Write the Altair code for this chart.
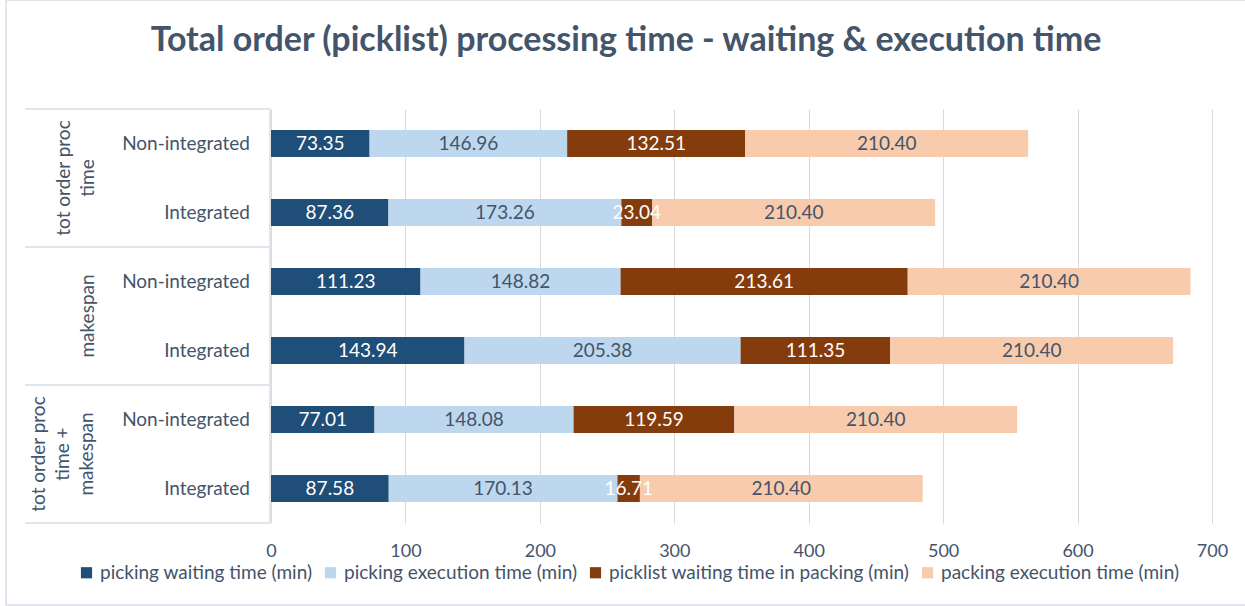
import altair as alt
import pandas as pd

title = "Total order (picklist) processing time - waiting & execution time"
groups = ["tot order proc\ntime", "makespan", "tot order proc\ntime +\nmakespan"]
categories = ["Non-integrated", "Integrated", "Non-integrated", "Integrated", "Non-integrated", "Integrated"]
series = [
    "picking waiting time (min)",
    "picking execution time (min)",
    "picklist waiting time in packing (min)",
    "packing execution time (min)",
]
picking_waiting = [73.35, 87.36, 111.23, 143.94, 77.01, 87.58]
picking_exec = [146.96, 173.26, 148.82, 205.38, 148.08, 170.13]
picklist_wait = [132.51, 23.04, 213.61, 111.35, 119.59, 16.71]
packing_exec = [210.40, 210.40, 210.40, 210.40, 210.40, 210.40]
colors = ["#1F4E79", "#BDD7EE", "#843C0C", "#F8CBAD"]
x_ticks = [0, 100, 200, 300, 400, 500, 600, 700]

FONT = "Lato"
TXT = "#44546A"
LINE = "#D9DEE6"

all_vals = [picking_waiting, picking_exec, picklist_wait, packing_exec]
rows = []
for r in range(len(categories)):
    for s, name in enumerate(series):
        rows.append({"row": r, "ypos": r + 0.5, "series": name, "order": s, "value": all_vals[s][r]})
df = pd.DataFrame(rows)

cat_df = pd.DataFrame({"ypos": [i + 0.5 for i in range(len(categories))], "cat": categories})
grp_df = pd.DataFrame({"gi": [0, 1, 2], "gy": [1, 3, 5], "g": groups})
bnd_df = pd.DataFrame({"b": [0, 2, 4, 6]})
title_df = pd.DataFrame({"t": [title]})

yscale = alt.Scale(domain=[0, 6], reverse=True, nice=False, zero=False, padding=0)
xscale = alt.Scale(domain=[0, 700], nice=False)
xaxis = alt.Axis(values=x_ticks, grid=True, gridColor="#D9D9D9", domain=False, ticks=False,
                 labelFlush=False, labelFontSize=18, labelFont=FONT, labelColor=TXT,
                 labelPadding=19, title=None)

base = alt.Chart(df).transform_stack(
    stack="value", groupby=["row"], as_=["x0", "x1"],
    sort=[alt.SortField("order", order="ascending")],
).transform_calculate(xm="(datum.x0 + datum.x1) / 2")

bars = base.mark_bar(orient="horizontal", size=27).encode(
    x=alt.X("x0:Q", scale=xscale, axis=xaxis),
    x2="x1:Q",
    y=alt.Y("ypos:Q", scale=yscale, axis=None),
    color=alt.Color("series:N", scale=alt.Scale(domain=series, range=colors),
                    legend=alt.Legend(orient="none", legendX=-194, legendY=454,
                                      direction="horizontal", title=None,
                                      symbolType="square", symbolSize=125,
                                      symbolStrokeWidth=0, labelLimit=0,
                                      labelFontSize=19, labelFont=FONT, labelColor=TXT,
                                      columnPadding=8, labelOffset=4)),
)

labels = base.mark_text(fontSize=19, font=FONT).encode(
    x=alt.X("xm:Q", scale=xscale, axis=xaxis),
    y=alt.Y("ypos:Q", scale=yscale, axis=None),
    text=alt.Text("value:Q", format=".2f"),
    color=alt.condition("datum.order == 0 || datum.order == 2", alt.value("white"), alt.value(TXT)),
)

cats = alt.Chart(cat_df).mark_text(align="right", fontSize=19, font=FONT, color=TXT).encode(
    x=alt.value(-21), y=alt.Y("ypos:Q", scale=yscale, axis=None), text="cat:N")

grp_layers = []
for gi, gx in zip([0, 1, 2], [-197, -173, -222]):
    grp_layers.append(
        alt.Chart(grp_df).transform_filter(f"datum.gi == {gi}").mark_text(
            angle=270, baseline="bottom", align="center", lineBreak="\n",
            lineHeight=24, fontSize=19, font=FONT, color=TXT).encode(
            x=alt.value(gx), y=alt.Y("gy:Q", scale=yscale, axis=None), text="g:N")
    )

seps = alt.Chart(bnd_df).mark_rule(color=LINE, strokeWidth=1.5).encode(
    y=alt.Y("b:Q", scale=yscale, axis=None), x=alt.value(-246), x2=alt.value(-1))

vline = alt.Chart(title_df).mark_rule(color=LINE, strokeWidth=1.5).encode(
    x=alt.value(-1), y=alt.value(0), y2=alt.value(414))

border = alt.Chart(title_df).mark_rect(fillOpacity=0, stroke=LINE, strokeWidth=1.5).encode(
    x=alt.value(-265), x2=alt.value(975), y=alt.value(-109), y2=alt.value(496))

ttl = alt.Chart(title_df).mark_text(fontSize=34, fontWeight="bold", font=FONT, color=TXT).encode(
    x=alt.value(355), y=alt.value(-68), text="t:N")

chart = alt.layer(border, ttl, seps, vline, bars, labels, cats, *grp_layers).properties(
    width=941, height=414,
    padding={"left": 271, "top": 109, "right": 33, "bottom": 83},
    autosize=alt.AutoSizeParams(type="none"),
).configure_view(stroke=None)

chart.save("out.html", embed_options={"renderer": "svg", "actions": False})
